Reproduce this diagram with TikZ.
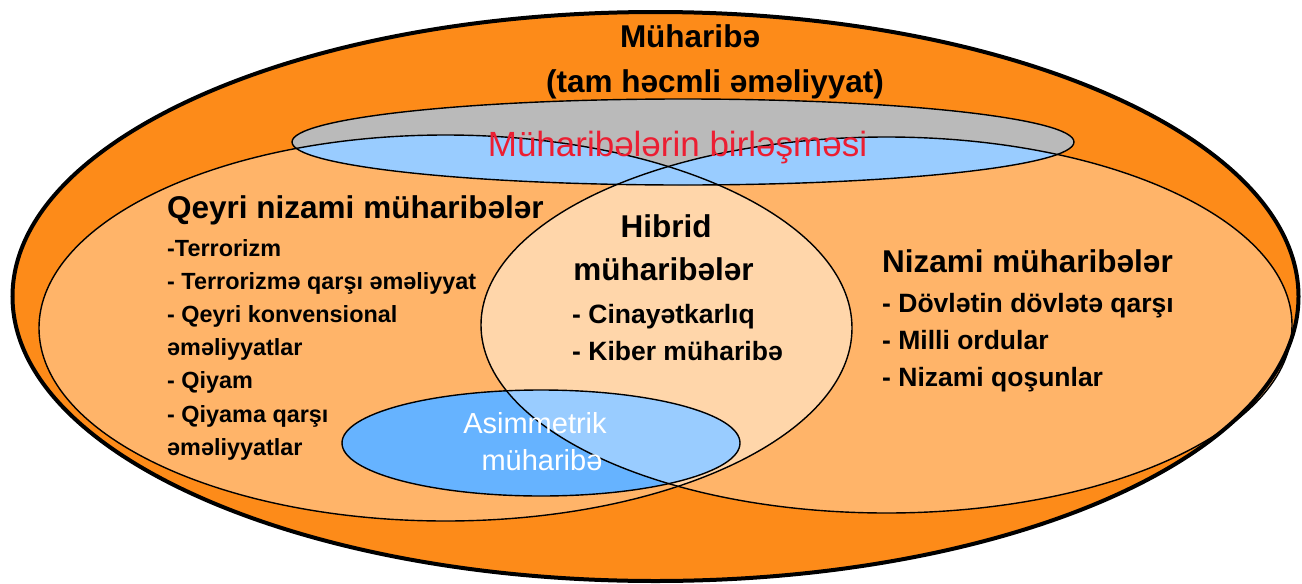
\documentclass[tikz,border=0pt]{standalone}
\usepackage{fontspec}
\setmainfont{Liberation Sans}

\definecolor{warorange}{RGB}{253,139,25}
\definecolor{sideorange}{RGB}{255,180,105}
\definecolor{hybridpeach}{RGB}{255,214,170}
\definecolor{paleblue}{RGB}{153,204,255}
\definecolor{midblue}{RGB}{102,179,255}
\definecolor{uniongray}{RGB}{186,186,186}
\definecolor{unionred}{RGB}{236,30,50}

% the five ellipses of the diagram (pixel-like units, y pointing down)
\newcommand{\ellWar}{(655.5,296.5) ellipse [x radius=643, y radius=284.5]}
\newcommand{\ellIrreg}{(445.5,328) ellipse [x radius=406.5, y radius=193]}
\newcommand{\ellReg}{(886.5,325) ellipse [x radius=405.5, y radius=188]}
\newcommand{\ellUnion}{(683,142) ellipse [x radius=391, y radius=43]}
\newcommand{\ellAsym}{(541,443) ellipse [x radius=199, y radius=53]}

\tikzset{
  thinline/.style={draw=black, line width=1.4pt},
  thickline/.style={draw=black, line width=4pt},
  txt/.style={inner sep=0pt, text=black},
  headtxt/.style={txt, font=\bfseries\fontsize{31.5}{36}\selectfont},
  smallitem/.style={txt, anchor=base west, font=\bfseries\fontsize{23.4}{28}\selectfont},
  bigitem/.style={txt, anchor=base west, font=\bfseries\fontsize{26.5}{31}\selectfont},
  redtxt/.style={inner sep=0pt, text=unionred, font=\fontsize{35}{40}\selectfont},
  whitetxt/.style={inner sep=0pt, text=white, font=\fontsize{29}{34}\selectfont},
}

\begin{document}
\begin{tikzpicture}[x=1pt, y=-1pt]
\useasboundingbox (0,0) rectangle (1302,584);

% fills
\fill[warorange] \ellWar;
\fill[sideorange] \ellIrreg;
\fill[sideorange] \ellReg;
\begin{scope}
  \clip \ellIrreg;
  \fill[hybridpeach] \ellReg;
\end{scope}
\fill[uniongray] \ellUnion;
\begin{scope}
  \clip \ellUnion;
  \fill[paleblue] \ellIrreg;
  \fill[paleblue] \ellReg;
\end{scope}
\fill[midblue] \ellAsym;
\begin{scope}
  \clip \ellAsym;
  \fill[paleblue] \ellReg;
\end{scope}

% outlines
\path[thickline] \ellWar;
\path[thinline] \ellIrreg;
\path[thinline] \ellReg;
\path[thinline] \ellUnion;
\path[thinline] \ellAsym;

% labels
\node[headtxt, anchor=base] (war1) at (690,47) {Müharibə};
\node[headtxt, anchor=base] (war2) at (715,92) {(tam həcmli əməliyyat)};

\node[redtxt, anchor=base] (union) at (677.5,156) {Müharibələrin birləşməsi};

\node[headtxt, anchor=base west] (irreg) at (167,218) {Qeyri nizami müharibələr};
\foreach \t [count=\i] in {-Terrorizm, - Terrorizmə qarşı əməliyyat,
    - Qeyri konvensional, əməliyyatlar, - Qiyam, - Qiyama qarşı, əməliyyatlar}
  \node[smallitem] (irreg\i) at (167,{256+33.2*(\i-1)}) {\t};

\node[headtxt, anchor=base] (hyb1) at (666,237) {Hibrid};
\node[headtxt, anchor=base] (hyb2) at (663.5,280) {müharibələr};
\node[bigitem] (hyb3) at (572,323) {- Cinayətkarlıq};
\node[bigitem] (hyb4) at (572,360) {- Kiber müharibə};

\node[headtxt, anchor=base west] (reg) at (882,272) {Nizami müharibələr};
\node[bigitem] (reg1) at (882,312) {- Dövlətin dövlətə qarşı};
\node[bigitem] (reg2) at (882,349) {- Milli ordular};
\node[bigitem] (reg3) at (882,386) {- Nizami qoşunlar};

\node[whitetxt, anchor=base] (asym1) at (535,433) {Asimmetrik};
\node[whitetxt, anchor=base] (asym2) at (542,470) {müharibə};
\end{tikzpicture}
\end{document}
